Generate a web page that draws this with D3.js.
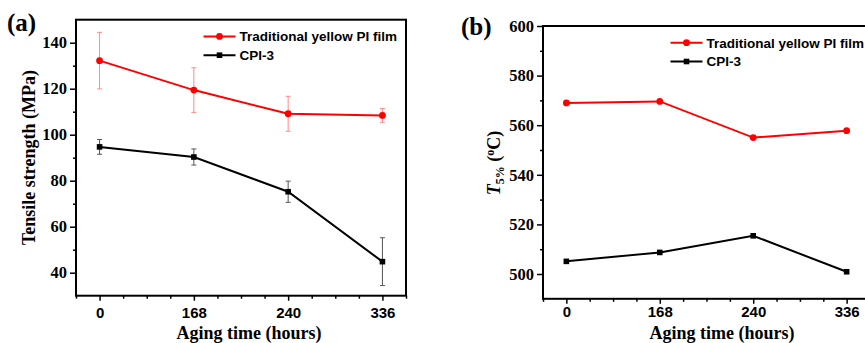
<!doctype html>
<html>
<head>
    <script src="https://d3js.org/d3.v7.min.js"></script>
    <style>
        body { margin: 0; background: #fff; }
    </style>
</head>
<body>

    <svg width="865" height="343"></svg>

    <script>
        var timeLabels = ["0", "168", "240", "336"];
        var seriesNames = ["Traditional yellow PI film", "CPI-3"];

        var tensileYellow = [132.2, 119.4, 109.1, 108.4];
        var tensileYellowErr = [12.3, 9.7, 7.6, 3.0];
        var tensileCPI = [94.7, 90.3, 75.2, 44.8];
        var tensileCPIErr = [3.2, 3.5, 4.6, 10.4];

        var t5Yellow = [569.0, 569.6, 555.0, 557.8];
        var t5CPI = [505.1, 508.7, 515.4, 500.9];

        var tensileTicks = [40, 60, 80, 100, 120, 140];
        var t5Ticks = [500, 520, 540, 560, 580, 600];

        var SERIF = '"Liberation Serif", "Times New Roman", Times, serif';
        var SANS = '"Liberation Sans", Arial, Helvetica, sans-serif';

        var svg = d3.select("svg");

        function serif(sel, size) {
            return sel.style("font-family", SERIF).style("font-weight", "bold").style("font-size", size);
        }
        function sans(sel, size) {
            return sel.style("font-family", SANS).style("font-weight", "bold").style("font-size", size);
        }

        function drawPanel(opt) {
            var g = svg.append("g");

            var x = d3.scaleLinear().domain([-0.25, 3.25]).range([opt.left, opt.right]);
            var y = d3.scaleLinear().domain(opt.yDomain).range([opt.bottom, opt.top]);

            // minor ticks
            var minorY = d3.range(opt.yDomain[0] + opt.minorStep, opt.yDomain[1], opt.minorStep)
                .filter(v => opt.yTicks.indexOf(v) < 0);
            g.append("g")
                .attr("transform", "translate(" + opt.left + ",0)")
                .call(d3.axisLeft(y).tickValues(minorY).tickSize(3).tickFormat(""))
                .call(a => a.select(".domain").remove())
                .call(a => a.selectAll("line").attr("stroke-width", 1.5));

            g.append("g")
                .attr("transform", "translate(" + opt.left + ",0)")
                .call(d3.axisLeft(y).tickValues(opt.yTicks).tickSize(6).tickPadding(3))
                .call(a => a.select(".domain").remove())
                .call(a => a.selectAll("line").attr("stroke-width", 1.5))
                .call(a => serif(a.selectAll("text"), "16.5px").attr("fill", "#000"));

            var minorX = d3.range(-0.25, 3.26, 0.25).filter(v => Math.abs(v - Math.round(v)) > 0.01);
            g.append("g")
                .attr("transform", "translate(0," + opt.bottom + ")")
                .call(d3.axisBottom(x).tickValues(minorX).tickSize(3).tickFormat(""))
                .call(a => a.select(".domain").remove())
                .call(a => a.selectAll("line").attr("stroke-width", 1.5));

            g.append("g")
                .attr("transform", "translate(0," + opt.bottom + ")")
                .call(d3.axisBottom(x).tickValues([0, 1, 2, 3]).tickSize(5).tickPadding(opt.xPad)
                    .tickFormat(i => timeLabels[i]))
                .call(a => a.select(".domain").remove())
                .call(a => a.selectAll("line").attr("stroke-width", 1.5))
                .call(a => sans(a.selectAll("text"), "15px").attr("fill", "#000"));

            // frame
            g.append("rect")
                .attr("x", opt.left)
                .attr("y", opt.top)
                .attr("width", opt.right - opt.left)
                .attr("height", opt.bottom - opt.top)
                .attr("fill", "none")
                .attr("stroke", "#000")
                .attr("stroke-width", 2);

            var line = d3.line().x((d, i) => x(i)).y(d => y(d));

            opt.series.forEach(function(s) {
                if (s.err) {
                    var eb = g.append("g").attr("stroke", s.errColor).attr("stroke-width", 1);
                    s.values.forEach(function(v, i) {
                        var cx = x(i), y0 = y(v - s.err[i]), y1 = y(v + s.err[i]);
                        eb.append("line").attr("x1", cx).attr("x2", cx).attr("y1", y0).attr("y2", y1);
                        eb.append("line").attr("x1", cx - 2.5).attr("x2", cx + 2.5).attr("y1", y0).attr("y2", y0);
                        eb.append("line").attr("x1", cx - 2.5).attr("x2", cx + 2.5).attr("y1", y1).attr("y2", y1);
                    });
                }
                g.append("path")
                    .datum(s.values)
                    .attr("fill", "none")
                    .attr("stroke", s.color)
                    .attr("stroke-width", 2)
                    .attr("d", line);
                drawMarkers(g, s, s.values.map((v, i) => [x(i), y(v)]));
            });

            // legend
            opt.series.forEach(function(s, k) {
                var ly = opt.top + 16.7 + k * 18.8;
                var lx = opt.left + 127.5;
                g.append("line")
                    .attr("x1", lx).attr("x2", lx + 32)
                    .attr("y1", ly).attr("y2", ly)
                    .attr("stroke", s.color).attr("stroke-width", 2);
                drawMarkers(g, s, [[lx + 16, ly]]);
                sans(g.append("text"), "13.5px")
                    .attr("x", lx + 36)
                    .attr("y", ly)
                    .attr("dy", "0.36em")
                    .text(seriesNames[k]);
            });

            // x title
            serif(g.append("text"), "18px")
                .attr("x", opt.xTitleX)
                .attr("y", 339)
                .attr("text-anchor", "middle")
                .text("Aging time (hours)");

            // panel letter
            serif(g.append("text"), "25px")
                .attr("x", opt.letterX)
                .attr("y", opt.letterY)
                .text(opt.letter);

            return g;
        }

        function drawMarkers(g, s, pts) {
            pts.forEach(function(p) {
                if (s.shape === "circle") {
                    g.append("circle").attr("cx", p[0]).attr("cy", p[1]).attr("r", 3.4).attr("fill", s.color);
                } else {
                    g.append("rect").attr("x", p[0] - 2.8).attr("y", p[1] - 2.8)
                        .attr("width", 5.6).attr("height", 5.6).attr("fill", s.color);
                }
            });
        }

        var gA = drawPanel({
            left: 76, right: 406, top: 19.7, bottom: 295.7,
            yDomain: [30, 150], yTicks: tensileTicks, minorStep: 10, xPad: 7,
            xTitleX: 249, letter: "(a)", letterX: 7, letterY: 31,
            series: [
                {values: tensileYellow, err: tensileYellowErr, color: "#ff0000", errColor: "#ff8a8a", shape: "circle"},
                {values: tensileCPI, err: tensileCPIErr, color: "#000000", errColor: "#555555", shape: "square"}
            ]
        });

        serif(gA.append("text"), "18px")
            .attr("transform", "translate(34.5,157.5) rotate(-90)")
            .attr("text-anchor", "middle")
            .text("Tensile strength (MPa)");

        var gB = drawPanel({
            left: 543, right: 870, top: 26, bottom: 298.8,
            yDomain: [490, 600], yTicks: t5Ticks, minorStep: 10, xPad: 3,
            xTitleX: 722, letter: "(b)", letterX: 461, letterY: 35,
            series: [
                {values: t5Yellow, color: "#ff0000", shape: "circle"},
                {values: t5CPI, color: "#000000", shape: "square"}
            ]
        });

        var tB = serif(gB.append("text"), "18px")
            .attr("transform", "translate(500,163) rotate(-90)")
            .attr("text-anchor", "middle");
        tB.append("tspan").style("font-style", "italic").text("T");
        tB.append("tspan").style("font-size", "12px").attr("dy", "4").text("5%");
        tB.append("tspan").attr("dy", "-4").text(" (");
        tB.append("tspan").style("font-size", "12px").attr("dy", "-6").text("o");
        tB.append("tspan").attr("dy", "6").text("C)");
    </script>
</body>
</html>
